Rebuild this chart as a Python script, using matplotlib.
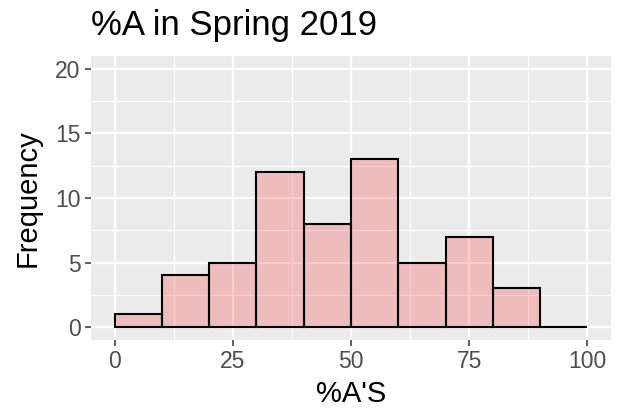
import numpy as np
import matplotlib
matplotlib.use("Agg")
import matplotlib.pyplot as plt

# histogram of %A values, bin width 10
bin_edges = [0, 10, 20, 30, 40, 50, 60, 70, 80, 90, 100]
counts = [1, 4, 5, 12, 8, 13, 5, 7, 3, 0]
x_ticks = [0, 25, 50, 75, 100]
y_ticks = [0, 5, 10, 15, 20]

plt.rcParams['font.family'] = ['Liberation Sans', 'DejaVu Sans']

fig = plt.figure(figsize=(6.22, 4.12), dpi=100)
# panel: x 91..611 px, y 56..340 px
ax = fig.add_axes([91 / 622, (412 - 340) / 412, 520 / 622, 284 / 412])
ax.set_facecolor('#EBEBEB')

# grid (major + minor) like ggplot theme_grey
for v in x_ticks:
    ax.axvline(v, color='white', lw=1.6, zorder=1)
for v in np.array(x_ticks[:-1]) + 12.5:
    ax.axvline(v, color='white', lw=0.8, zorder=1)
for v in y_ticks:
    ax.axhline(v, color='white', lw=1.6, zorder=1)
for v in np.array(y_ticks[:-1]) + 2.5:
    ax.axhline(v, color='white', lw=0.8, zorder=1)

lefts = np.array(bin_edges[:-1])
widths = np.diff(bin_edges)
ax.bar(lefts, counts, width=widths, align='edge', color=(1, 0, 0, 0.2),
       edgecolor='black', linewidth=1.5, zorder=2)

ax.set_xlim(-5, 105)
ax.set_ylim(-1, 21)
ax.set_xticks(x_ticks)
ax.set_yticks(y_ticks)
ax.tick_params(axis='both', colors='#333333', length=4.5, width=1.1,
               labelsize=16.5, labelcolor='#4D4D4D', pad=3)
for s in ax.spines.values():
    s.set_visible(False)

ax.set_xlabel("%A'S", fontsize=21, labelpad=4.5)
ax.set_ylabel('Frequency', fontsize=21, labelpad=10)
ax.set_title('%A in Spring 2019', fontsize=25, loc='left', x=0.0, pad=15)

fig.savefig('out.png', dpi=100)
